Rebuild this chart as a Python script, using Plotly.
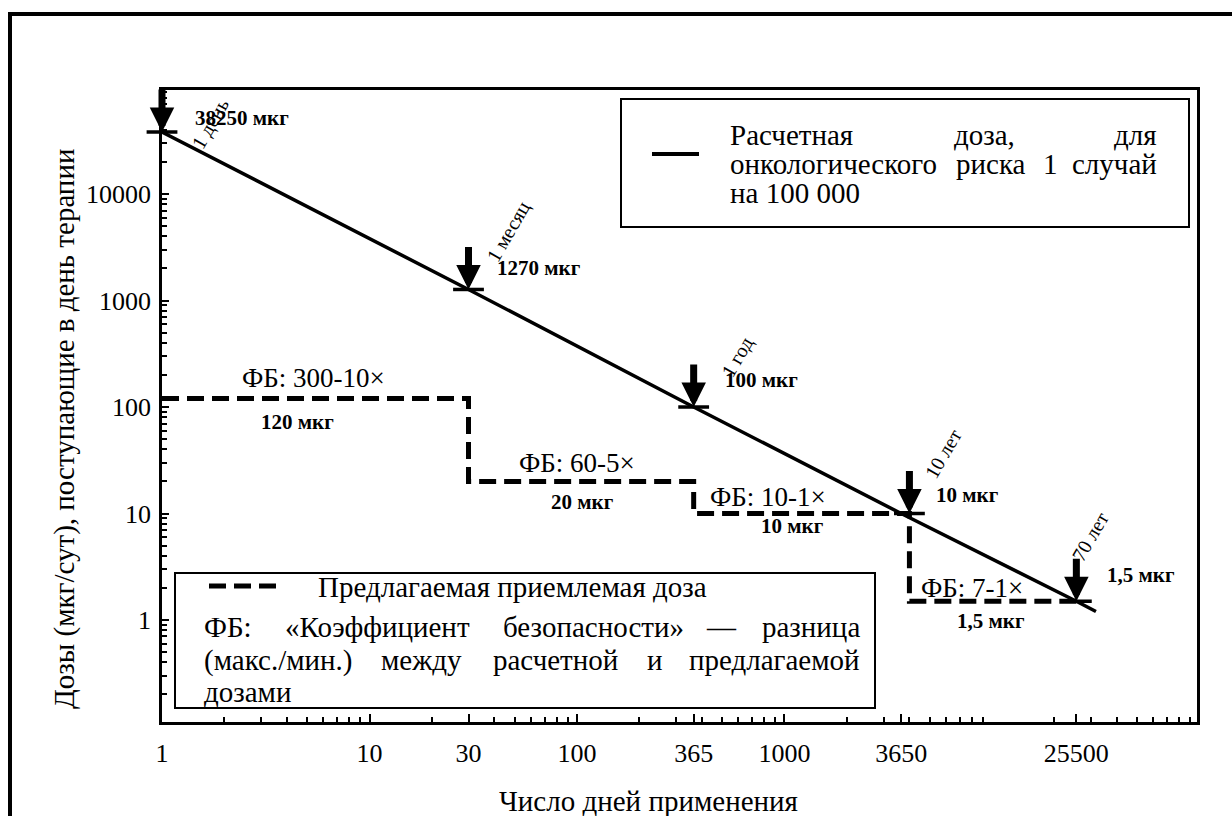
import math
import plotly.graph_objects as go

# ---------------- data ----------------
line_days = [1, 30, 365, 3650, 25500, 31700]
line_doses = [38250, 1270, 100, 10, 1.5, 1.2]

step_days = [1, 30, 30, 365, 365, 4000, 4000, 25500]
step_doses = [120, 120, 20, 20, 10, 10, 1.5, 1.5]

point_days = [1, 30, 365, 4000, 25500]
point_doses = [38250, 1270, 100, 10, 1.5]
dose_labels = ["38250 мкг", "1270 мкг", "100 мкг", "10 мкг", "1,5 мкг"]
period_labels = ["1 день", "1 месяц", "1 год", "10 лет", "70 лет"]

fb_labels = ["ФБ: 300-10×", "ФБ: 60-5×", "ФБ: 10-1×", "ФБ: 7-1×"]
accepted_labels = ["120 мкг", "20 мкг", "10 мкг", "1,5 мкг"]

triangle_days = [1, 30, 365, 3650, 25500]
x_tickvals = [1, 10, 30, 100, 365, 1000, 3650, 25500]
x_ticktext = ["1", "10", "30", "100", "365", "1000", "3650", "25500"]
y_tickvals = [1, 10, 100, 1000, 10000]
y_ticktext = ["1", "10", "100", "1000", "10000"]

legend_solid = "Расчетная доза, для онкологического риска 1 случай на 100 000"
legend_dash = "Предлагаемая приемлемая доза"
fb_note = ("ФБ: «Коэффициент безопасности» — разница "
           "(макс./мин.) между расчетной и предлагаемой дозами")
x_title = "Число дней применения"
y_title = "Дозы (мкг/сут), поступающие в день терапии"

# ---------------- layout geometry (pixels) ----------------
W, H = 1232, 816
L, R, T, B = 162, 1197, 90, 722
FONT = "Liberation Serif, Times New Roman, DejaVu Serif, serif"
TXT = 29


def px(x):
    return (x - L) / (R - L)


def py(y):
    return (B - y) / (B - T)


def label(text, x, y, size, anchor="center", angle=0):
    return dict(x=px(x), y=py(y), xref="paper", yref="paper", text=text,
                showarrow=False, xanchor=anchor, yanchor="middle", textangle=angle,
                font=dict(family=FONT, size=size, color="black"))


fig = go.Figure()

# calculated dose line
fig.add_trace(go.Scatter(x=line_days, y=line_doses, mode="lines",
                         line=dict(color="black", width=3.5), hoverinfo="skip"))
# proposed dose (dashed steps)
fig.add_trace(go.Scatter(x=step_days, y=step_doses, mode="lines",
                         line=dict(color="black", width=5, dash="17px,8px"),
                         hoverinfo="skip"))
# short horizontal marks at the arrow points
fig.add_trace(go.Scatter(x=point_days, y=point_doses, mode="markers",
                         marker=dict(symbol="line-ew", size=22,
                                     line=dict(color="black", width=3.5)),
                         cliponaxis=False, hoverinfo="skip"))
# open triangles on the x axis
fig.add_trace(go.Scatter(x=triangle_days, y=[10 ** -0.99] * len(triangle_days),
                         mode="markers",
                         marker=dict(symbol="triangle-up-open", size=12, color="black",
                                     line=dict(color="black", width=2)),
                         cliponaxis=False, hoverinfo="skip"))

ann = []
shapes = []

# arrows
for d, v in zip(point_days, point_doses):
    ann.append(dict(x=math.log10(d), y=math.log10(v), xref="x", yref="y",
                    showarrow=True, ax=0, ay=-44, arrowhead=2, arrowsize=0.7,
                    arrowwidth=7, arrowcolor="black", text=""))

# dose labels (bold)
dose_pos = [(193, 118), (495, 268), (723, 380), (934, 495), (1105, 575)]
for t, (x, y) in zip(dose_labels, dose_pos):
    ann.append(label("<b>%s</b>" % t, x, y, 21, "left"))

# rotated period labels
period_pos = [(211, 124), (509, 232), (737, 357), (943, 454), (1090, 537)]
for t, (x, y) in zip(period_labels, period_pos):
    ann.append(label(t, x, y, 20, "center", -60))

# FB labels and accepted-dose labels
fb_pos = [(313, 378), (577, 463), (768, 497), (972, 588)]
for t, (x, y) in zip(fb_labels, fb_pos):
    ann.append(label(t, x, y, 27))
acc_pos = [(297, 422), (582, 502), (792, 526), (990, 621)]
for t, (x, y) in zip(accepted_labels, acc_pos):
    ann.append(label("<b>%s</b>" % t, x, y, 21))

# axis titles
ann.append(label(x_title, 648, 801, TXT))
ann.append(label(y_title, 64, 429, TXT, "center", -90))


def justified(words, y, x_left, x_right, centers):
    # first word left-aligned, last word right-aligned, middle words centred
    out = []
    for i, w in enumerate(words):
        if i == 0:
            out.append(label(w, x_left, y, TXT, "left"))
        elif i == len(words) - 1:
            out.append(label(w, x_right, y, TXT, "right"))
        else:
            out.append(label(w, centers[i - 1], y, TXT, "center"))
    return out


# top-right legend box
shapes.append(dict(type="rect", xref="paper", yref="paper", x0=px(621), x1=px(1189),
                   y0=py(99), y1=py(227), line=dict(color="black", width=2),
                   fillcolor="white", layer="below"))
shapes.append(dict(type="line", xref="paper", yref="paper", x0=px(652), x1=px(699),
                   y0=py(154), y1=py(154), line=dict(color="black", width=4)))
sw = legend_solid.split(" ")
ann += justified(sw[0:3], 135, 728, 1159, [984])
ann += justified(sw[3:7], 164, 728, 1159, [991, 1050])
ann.append(label(" ".join(sw[7:]), 728, 193, TXT, "left"))

# bottom-left legend box
shapes.append(dict(type="rect", xref="paper", yref="paper", x0=px(175), x1=px(875),
                   y0=py(573), y1=py(708), line=dict(color="black", width=2),
                   fillcolor="white", layer="below"))
shapes.append(dict(type="line", xref="paper", yref="paper", x0=px(209), x1=px(276),
                   y0=py(586), y1=py(586),
                   line=dict(color="black", width=5, dash="17px,8px")))
ann.append(label(legend_dash, 316, 587, TXT, "left"))
nw = fb_note.split(" ")
ann += justified(nw[0:5], 627, 202, 862, [377, 593, 721])
ann += justified(nw[5:10], 660, 202, 862, [421, 555, 655])
ann.append(label(nw[10], 202, 692, TXT, "left"))

# outer frame (top and left edges)
shapes.append(dict(type="line", xref="paper", yref="paper", x0=px(8), x1=px(1240),
                   y0=py(14), y1=py(14), line=dict(color="black", width=4)))
shapes.append(dict(type="line", xref="paper", yref="paper", x0=px(10), x1=px(10),
                   y0=py(12), y1=py(830), line=dict(color="black", width=4)))

x_minor = [m * 10 ** k for k in range(0, 5) for m in range(2, 10)]
y_minor = [m * 10.0 ** k for k in range(-1, 5) for m in range(2, 10)]

fig.update_layout(
    width=W, height=H,
    margin=dict(l=L, r=W - R, t=T, b=H - B),
    paper_bgcolor="white", plot_bgcolor="white",
    showlegend=False,
    font=dict(family=FONT, size=26, color="black"),
    annotations=ann, shapes=shapes,
    xaxis=dict(type="log", range=[0, 4.988], tickmode="array", tickvals=x_tickvals,
               ticktext=x_ticktext, ticks="inside", ticklen=8, tickwidth=1.5,
               tickcolor="black", showline=True, linewidth=2.5, linecolor="black",
               mirror=True, showgrid=False, zeroline=False,
               tickfont=dict(family=FONT, size=26, color="black"),
               ticklabelstandoff=6,
               minor=dict(tickmode="array", tickvals=x_minor, ticks="inside",
                          ticklen=5, tickwidth=1.5, tickcolor="black", showgrid=False)),
    yaxis=dict(type="log", range=[-0.958, 4.977], tickmode="array", tickvals=y_tickvals,
               ticktext=y_ticktext, ticks="inside", ticklen=7, tickwidth=1.5,
               tickcolor="black", showline=True, linewidth=2.5, linecolor="black",
               mirror=True, showgrid=False, zeroline=False,
               tickfont=dict(family=FONT, size=26, color="black"),
               ticklabelstandoff=3,
               minor=dict(tickmode="array", tickvals=y_minor, ticks="inside",
                          ticklen=5, tickwidth=1.5, tickcolor="black", showgrid=False)),
)

fig.write_html("out.html",
               config={"displayModeBar": False},
               post_script="document.body.style.margin='0';"
                           "document.body.style.overflow='hidden';")
